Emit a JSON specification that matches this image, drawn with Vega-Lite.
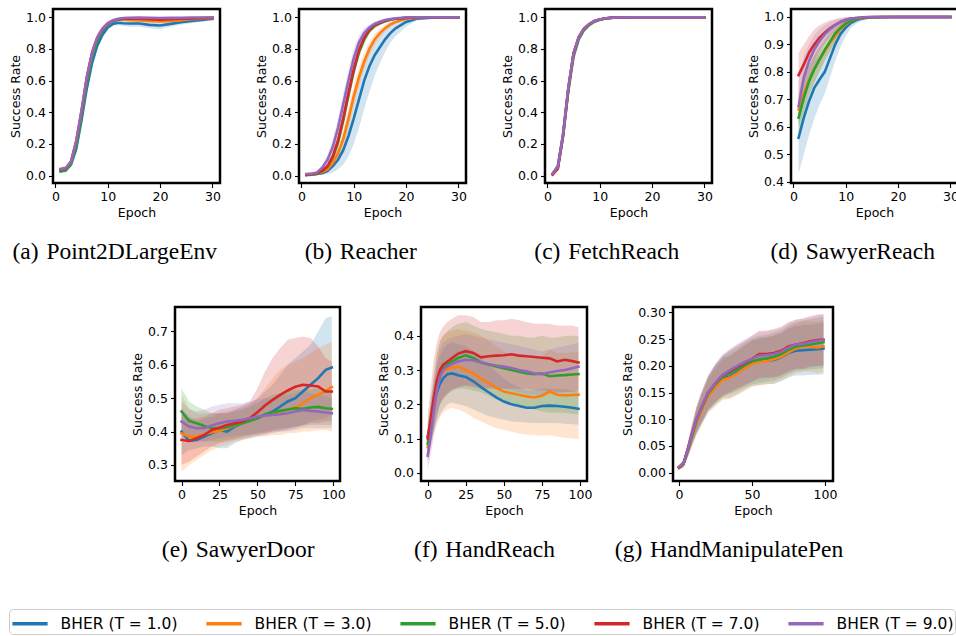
{
"$schema":"https://vega.github.io/schema/vega-lite/v6.json",
"background":"white",
"padding":{"left":7,"top":7,"right":0,"bottom":0},
"spacing":40,
"vconcat":[
{"hconcat":[
{"width":167,"height":174,"data":{"name":"a"},"title":{"text":"(a)\u200a Point2DLargeEnv"},
"encoding":{"x":{"field":"e","type":"quantitative","scale":{"domain":[-0.45,31.45],"nice":false,"zero":false},"axis":{"values":[0,10,20,30],"title":"Epoch"}},
"y":{"field":"m","type":"quantitative","title":"Success Rate","scale":{"domain":[-0.047,1.052],"nice":false,"zero":false},"axis":{"values":[0,0.2,0.4,0.6,0.8,1],"format":".1f"}},
"color":{"field":"s","type":"nominal","scale":{"domain":[1,3,5,7,9],"range":["#1f77b4","#ff7f0e","#2ca02c","#d62728","#9467bd"]},"legend":{"orient":"none","legendX":-44,"legendY":600,"direction":"horizontal","columns":5,"title":null,"labelExpr":"'BHER (T = ' + format(datum.value, '.1f') + ')'"}}},
"layer":[{"mark":{"type":"area","opacity":0.2},"encoding":{"y":{"field":"l","type":"quantitative","title":"Success Rate"},"y2":{"field":"h"}}},
{"mark":{"type":"line","strokeWidth":2.6,"strokeCap":"square"}}]},
{"width":167,"height":174,"data":{"name":"b"},"title":{"text":"(b)\u200a Reacher"},
"encoding":{"x":{"field":"e","type":"quantitative","scale":{"domain":[-0.45,31.45],"nice":false,"zero":false},"axis":{"values":[0,10,20,30],"title":"Epoch"}},
"y":{"field":"m","type":"quantitative","title":"Success Rate","scale":{"domain":[-0.047,1.052],"nice":false,"zero":false},"axis":{"values":[0,0.2,0.4,0.6,0.8,1],"format":".1f"}},
"color":{"field":"s","type":"nominal","scale":{"domain":[1,3,5,7,9],"range":["#1f77b4","#ff7f0e","#2ca02c","#d62728","#9467bd"]},"legend":{"orient":"none","legendX":-44,"legendY":600,"direction":"horizontal","columns":5,"title":null,"labelExpr":"'BHER (T = ' + format(datum.value, '.1f') + ')'"}}},
"layer":[{"mark":{"type":"area","opacity":0.2},"encoding":{"y":{"field":"l","type":"quantitative","title":"Success Rate"},"y2":{"field":"h"}}},
{"mark":{"type":"line","strokeWidth":2.6,"strokeCap":"square"}}]},
{"width":167,"height":174,"data":{"name":"c"},"title":{"text":"(c)\u200a FetchReach"},
"encoding":{"x":{"field":"e","type":"quantitative","scale":{"domain":[-0.45,31.45],"nice":false,"zero":false},"axis":{"values":[0,10,20,30],"title":"Epoch"}},
"y":{"field":"m","type":"quantitative","title":"Success Rate","scale":{"domain":[-0.047,1.052],"nice":false,"zero":false},"axis":{"values":[0,0.2,0.4,0.6,0.8,1],"format":".1f"}},
"color":{"field":"s","type":"nominal","scale":{"domain":[1,3,5,7,9],"range":["#1f77b4","#ff7f0e","#2ca02c","#d62728","#9467bd"]},"legend":{"orient":"none","legendX":-44,"legendY":600,"direction":"horizontal","columns":5,"title":null,"labelExpr":"'BHER (T = ' + format(datum.value, '.1f') + ')'"}}},
"layer":[{"mark":{"type":"area","opacity":0.2},"encoding":{"y":{"field":"l","type":"quantitative","title":"Success Rate"},"y2":{"field":"h"}}},
{"mark":{"type":"line","strokeWidth":2.6,"strokeCap":"square"}}]},
{"width":167,"height":174,"data":{"name":"d"},"title":{"text":"(d)\u200a SawyerReach"},
"encoding":{"x":{"field":"e","type":"quantitative","scale":{"domain":[-0.45,31.45],"nice":false,"zero":false},"axis":{"values":[0,10,20,30],"title":"Epoch"}},
"y":{"field":"m","type":"quantitative","title":"Success Rate","scale":{"domain":[0.395,1.029],"nice":false,"zero":false},"axis":{"values":[0.4,0.5,0.6,0.7,0.8,0.9,1],"format":".1f"}},
"color":{"field":"s","type":"nominal","scale":{"domain":[1,3,5,7,9],"range":["#1f77b4","#ff7f0e","#2ca02c","#d62728","#9467bd"]},"legend":{"orient":"none","legendX":-44,"legendY":600,"direction":"horizontal","columns":5,"title":null,"labelExpr":"'BHER (T = ' + format(datum.value, '.1f') + ')'"}}},
"layer":[{"mark":{"type":"area","opacity":0.2},"encoding":{"y":{"field":"l","type":"quantitative","title":"Success Rate"},"y2":{"field":"h"}}},
{"mark":{"type":"line","strokeWidth":2.6,"strokeCap":"square"}}]}
],"spacing":79,"bounds":"flush"},
{"hconcat":[
{"width":41,"height":174,"data":{"values":[]},"mark":"point","view":{"stroke":null}},
{"width":165,"height":174,"data":{"name":"e"},"title":{"text":"(e)\u200a SawyerDoor"},
"encoding":{"x":{"field":"e","type":"quantitative","scale":{"domain":[-4.3,104.4],"nice":false,"zero":false},"axis":{"values":[0,25,50,75,100],"title":"Epoch"}},
"y":{"field":"m","type":"quantitative","title":"Success Rate","scale":{"domain":[0.252,0.773],"nice":false,"zero":false},"axis":{"values":[0.3,0.4,0.5,0.6,0.7],"format":".1f"}},
"color":{"field":"s","type":"nominal","scale":{"domain":[1,3,5,7,9],"range":["#1f77b4","#ff7f0e","#2ca02c","#d62728","#9467bd"]},"legend":{"orient":"none","legendX":-44,"legendY":600,"direction":"horizontal","columns":5,"title":null,"labelExpr":"'BHER (T = ' + format(datum.value, '.1f') + ')'"}}},
"layer":[{"mark":{"type":"area","opacity":0.2},"encoding":{"y":{"field":"l","type":"quantitative","title":"Success Rate"},"y2":{"field":"h"}}},
{"mark":{"type":"line","strokeWidth":2.6,"strokeCap":"square"}}]},
{"hconcat":[
{"width":166,"height":174,"data":{"name":"f"},"title":{"text":"(f)\u200a HandReach"},
"encoding":{"x":{"field":"e","type":"quantitative","scale":{"domain":[-4.4,104.6],"nice":false,"zero":false},"axis":{"values":[0,25,50,75,100],"title":"Epoch"}},
"y":{"field":"m","type":"quantitative","title":"Success Rate","scale":{"domain":[-0.024,0.484],"nice":false,"zero":false},"axis":{"values":[0,0.1,0.2,0.3,0.4],"format":".1f"}},
"color":{"field":"s","type":"nominal","scale":{"domain":[1,3,5,7,9],"range":["#1f77b4","#ff7f0e","#2ca02c","#d62728","#9467bd"]},"legend":{"orient":"none","legendX":-44,"legendY":600,"direction":"horizontal","columns":5,"title":null,"labelExpr":"'BHER (T = ' + format(datum.value, '.1f') + ')'"}}},
"layer":[{"mark":{"type":"area","opacity":0.2},"encoding":{"y":{"field":"l","type":"quantitative","title":"Success Rate"},"y2":{"field":"h"}}},
{"mark":{"type":"line","strokeWidth":2.6,"strokeCap":"square"}}]},
{"width":160,"height":174,"data":{"name":"g"},"title":{"text":"(g)\u200a HandManipulatePen"},
"encoding":{"x":{"field":"e","type":"quantitative","scale":{"domain":[-4.1,105.5],"nice":false,"zero":false},"axis":{"values":[0,50,100],"title":"Epoch"}},
"y":{"field":"m","type":"quantitative","title":"Success Rate","scale":{"domain":[-0.0156,0.31],"nice":false,"zero":false},"axis":{"values":[0,0.05,0.1,0.15,0.2,0.25,0.3],"format":".2f"}},
"color":{"field":"s","type":"nominal","scale":{"domain":[1,3,5,7,9],"range":["#1f77b4","#ff7f0e","#2ca02c","#d62728","#9467bd"]},"legend":{"orient":"none","legendX":-44,"legendY":600,"direction":"horizontal","columns":5,"title":null,"labelExpr":"'BHER (T = ' + format(datum.value, '.1f') + ')'"}}},
"layer":[{"mark":{"type":"area","opacity":0.2},"encoding":{"y":{"field":"l","type":"quantitative","title":"Success Rate"},"y2":{"field":"h"}}},
{"mark":{"type":"line","strokeWidth":2.6,"strokeCap":"square"}}]}
],"spacing":86,"bounds":"flush"}
],"spacing":81,"bounds":"flush"}
],
"datasets":{
"a":[
{"e":1,"s":1,"m":0.027,"l":0.015,"h":0.039},{"e":2,"s":1,"m":0.033,"l":0.021,"h":0.045},{"e":3,"s":1,"m":0.07,"l":0.058,"h":0.082},{"e":4,"s":1,"m":0.17,"l":0.14,"h":0.2},{"e":5,"s":1,"m":0.35,"l":0.31,"h":0.39},{"e":6,"s":1,"m":0.55,"l":0.51,"h":0.59},{"e":7,"s":1,"m":0.71,"l":0.675,"h":0.745},{"e":8,"s":1,"m":0.82,"l":0.795,"h":0.845},{"e":9,"s":1,"m":0.89,"l":0.87,"h":0.91},{"e":10,"s":1,"m":0.935,"l":0.92,"h":0.95},{"e":11,"s":1,"m":0.958,"l":0.946,"h":0.97},{"e":12,"s":1,"m":0.965,"l":0.95,"h":0.98},{"e":13,"s":1,"m":0.962,"l":0.945,"h":0.98},{"e":14,"s":1,"m":0.96,"l":0.94,"h":0.98},{"e":16,"s":1,"m":0.96,"l":0.94,"h":0.98},{"e":18,"s":1,"m":0.952,"l":0.93,"h":0.975},{"e":20,"s":1,"m":0.948,"l":0.925,"h":0.97},{"e":22,"s":1,"m":0.958,"l":0.94,"h":0.975},{"e":24,"s":1,"m":0.968,"l":0.952,"h":0.984},{"e":26,"s":1,"m":0.976,"l":0.962,"h":0.99},{"e":28,"s":1,"m":0.983,"l":0.972,"h":0.994},{"e":30,"s":1,"m":0.99,"l":0.982,"h":0.998},
{"e":1,"s":3,"m":0.035,"l":0.023,"h":0.047},{"e":2,"s":3,"m":0.04,"l":0.028,"h":0.052},{"e":3,"s":3,"m":0.08,"l":0.068,"h":0.092},{"e":4,"s":3,"m":0.2,"l":0.17,"h":0.23},{"e":5,"s":3,"m":0.39,"l":0.35,"h":0.43},{"e":6,"s":3,"m":0.6,"l":0.56,"h":0.64},{"e":7,"s":3,"m":0.76,"l":0.725,"h":0.795},{"e":8,"s":3,"m":0.86,"l":0.835,"h":0.885},{"e":9,"s":3,"m":0.92,"l":0.9,"h":0.94},{"e":10,"s":3,"m":0.955,"l":0.94,"h":0.97},{"e":11,"s":3,"m":0.975,"l":0.963,"h":0.987},{"e":12,"s":3,"m":0.985,"l":0.977,"h":0.993},{"e":13,"s":3,"m":0.985,"l":0.977,"h":0.993},{"e":14,"s":3,"m":0.983,"l":0.975,"h":0.991},{"e":16,"s":3,"m":0.98,"l":0.97,"h":0.99},{"e":18,"s":3,"m":0.976,"l":0.966,"h":0.986},{"e":20,"s":3,"m":0.974,"l":0.964,"h":0.984},{"e":22,"s":3,"m":0.977,"l":0.967,"h":0.987},{"e":24,"s":3,"m":0.982,"l":0.974,"h":0.99},{"e":26,"s":3,"m":0.987,"l":0.98,"h":0.994},{"e":28,"s":3,"m":0.99,"l":0.984,"h":0.996},{"e":30,"s":3,"m":0.994,"l":0.989,"h":0.999},
{"e":1,"s":5,"m":0.028,"l":0.016,"h":0.04},{"e":2,"s":5,"m":0.035,"l":0.023,"h":0.047},{"e":3,"s":5,"m":0.075,"l":0.063,"h":0.087},{"e":4,"s":5,"m":0.19,"l":0.16,"h":0.22},{"e":5,"s":5,"m":0.38,"l":0.34,"h":0.42},{"e":6,"s":5,"m":0.59,"l":0.55,"h":0.63},{"e":7,"s":5,"m":0.75,"l":0.715,"h":0.785},{"e":8,"s":5,"m":0.85,"l":0.825,"h":0.875},{"e":9,"s":5,"m":0.915,"l":0.895,"h":0.935},{"e":10,"s":5,"m":0.955,"l":0.94,"h":0.97},{"e":11,"s":5,"m":0.975,"l":0.963,"h":0.987},{"e":12,"s":5,"m":0.985,"l":0.977,"h":0.993},{"e":13,"s":5,"m":0.99,"l":0.982,"h":0.998},{"e":14,"s":5,"m":0.99,"l":0.982,"h":0.998},{"e":16,"s":5,"m":0.99,"l":0.982,"h":0.998},{"e":18,"s":5,"m":0.99,"l":0.983,"h":0.997},{"e":20,"s":5,"m":0.99,"l":0.983,"h":0.997},{"e":22,"s":5,"m":0.99,"l":0.984,"h":0.996},{"e":24,"s":5,"m":0.992,"l":0.985,"h":0.999},{"e":26,"s":5,"m":0.994,"l":0.988,"h":1},{"e":28,"s":5,"m":0.995,"l":0.99,"h":1},{"e":30,"s":5,"m":0.996,"l":0.991,"h":1},
{"e":1,"s":7,"m":0.04,"l":0.028,"h":0.052},{"e":2,"s":7,"m":0.045,"l":0.033,"h":0.057},{"e":3,"s":7,"m":0.09,"l":0.078,"h":0.102},{"e":4,"s":7,"m":0.22,"l":0.19,"h":0.25},{"e":5,"s":7,"m":0.41,"l":0.37,"h":0.45},{"e":6,"s":7,"m":0.62,"l":0.58,"h":0.66},{"e":7,"s":7,"m":0.775,"l":0.74,"h":0.81},{"e":8,"s":7,"m":0.87,"l":0.845,"h":0.895},{"e":9,"s":7,"m":0.925,"l":0.905,"h":0.945},{"e":10,"s":7,"m":0.96,"l":0.945,"h":0.975},{"e":11,"s":7,"m":0.978,"l":0.966,"h":0.99},{"e":12,"s":7,"m":0.987,"l":0.979,"h":0.995},{"e":13,"s":7,"m":0.99,"l":0.982,"h":0.998},{"e":14,"s":7,"m":0.99,"l":0.982,"h":0.998},{"e":16,"s":7,"m":0.99,"l":0.982,"h":0.998},{"e":18,"s":7,"m":0.988,"l":0.98,"h":0.996},{"e":20,"s":7,"m":0.985,"l":0.977,"h":0.993},{"e":22,"s":7,"m":0.987,"l":0.979,"h":0.995},{"e":24,"s":7,"m":0.99,"l":0.982,"h":0.998},{"e":26,"s":7,"m":0.992,"l":0.985,"h":0.999},{"e":28,"s":7,"m":0.994,"l":0.988,"h":1},{"e":30,"s":7,"m":0.996,"l":0.991,"h":1},
{"e":1,"s":9,"m":0.042,"l":0.03,"h":0.054},{"e":2,"s":9,"m":0.048,"l":0.036,"h":0.06},{"e":3,"s":9,"m":0.09,"l":0.078,"h":0.102},{"e":4,"s":9,"m":0.22,"l":0.19,"h":0.25},{"e":5,"s":9,"m":0.41,"l":0.37,"h":0.45},{"e":6,"s":9,"m":0.62,"l":0.58,"h":0.66},{"e":7,"s":9,"m":0.77,"l":0.735,"h":0.805},{"e":8,"s":9,"m":0.87,"l":0.845,"h":0.895},{"e":9,"s":9,"m":0.925,"l":0.905,"h":0.945},{"e":10,"s":9,"m":0.96,"l":0.945,"h":0.975},{"e":11,"s":9,"m":0.98,"l":0.968,"h":0.992},{"e":12,"s":9,"m":0.99,"l":0.982,"h":0.998},{"e":13,"s":9,"m":0.995,"l":0.99,"h":1},{"e":14,"s":9,"m":0.997,"l":0.993,"h":1},{"e":16,"s":9,"m":0.998,"l":0.995,"h":1},{"e":18,"s":9,"m":0.997,"l":0.993,"h":1},{"e":20,"s":9,"m":0.995,"l":0.99,"h":1},{"e":22,"s":9,"m":0.996,"l":0.992,"h":1},{"e":24,"s":9,"m":0.997,"l":0.993,"h":1},{"e":26,"s":9,"m":0.998,"l":0.995,"h":1},{"e":28,"s":9,"m":0.998,"l":0.995,"h":1},{"e":30,"s":9,"m":0.998,"l":0.995,"h":1}
],
"b":[
{"e":1,"s":1,"m":0.005,"l":0,"h":0.01},{"e":2,"s":1,"m":0.007,"l":0.002,"h":0.012},{"e":3,"s":1,"m":0.01,"l":0.004,"h":0.016},{"e":4,"s":1,"m":0.015,"l":0.006,"h":0.025},{"e":5,"s":1,"m":0.03,"l":0.01,"h":0.05},{"e":6,"s":1,"m":0.06,"l":0.02,"h":0.1},{"e":7,"s":1,"m":0.1,"l":0.04,"h":0.17},{"e":8,"s":1,"m":0.16,"l":0.07,"h":0.26},{"e":9,"s":1,"m":0.25,"l":0.12,"h":0.37},{"e":10,"s":1,"m":0.36,"l":0.2,"h":0.5},{"e":11,"s":1,"m":0.48,"l":0.3,"h":0.63},{"e":12,"s":1,"m":0.6,"l":0.42,"h":0.73},{"e":13,"s":1,"m":0.69,"l":0.53,"h":0.8},{"e":14,"s":1,"m":0.76,"l":0.63,"h":0.85},{"e":15,"s":1,"m":0.81,"l":0.71,"h":0.89},{"e":16,"s":1,"m":0.86,"l":0.78,"h":0.92},{"e":17,"s":1,"m":0.9,"l":0.84,"h":0.95},{"e":18,"s":1,"m":0.93,"l":0.88,"h":0.97},{"e":20,"s":1,"m":0.97,"l":0.94,"h":0.99},{"e":22,"s":1,"m":0.99,"l":0.98,"h":1},{"e":25,"s":1,"m":0.997,"l":0.993,"h":1},{"e":30,"s":1,"m":1,"l":0.998,"h":1},
{"e":1,"s":3,"m":0.005,"l":0,"h":0.01},{"e":2,"s":3,"m":0.008,"l":0.003,"h":0.013},{"e":3,"s":3,"m":0.012,"l":0.007,"h":0.017},{"e":4,"s":3,"m":0.02,"l":0.012,"h":0.028},{"e":5,"s":3,"m":0.04,"l":0.025,"h":0.055},{"e":6,"s":3,"m":0.08,"l":0.05,"h":0.11},{"e":7,"s":3,"m":0.14,"l":0.095,"h":0.185},{"e":8,"s":3,"m":0.23,"l":0.17,"h":0.29},{"e":9,"s":3,"m":0.36,"l":0.29,"h":0.43},{"e":10,"s":3,"m":0.5,"l":0.43,"h":0.57},{"e":11,"s":3,"m":0.62,"l":0.555,"h":0.685},{"e":12,"s":3,"m":0.72,"l":0.665,"h":0.775},{"e":13,"s":3,"m":0.8,"l":0.755,"h":0.845},{"e":14,"s":3,"m":0.86,"l":0.825,"h":0.895},{"e":15,"s":3,"m":0.9,"l":0.872,"h":0.928},{"e":16,"s":3,"m":0.93,"l":0.908,"h":0.952},{"e":17,"s":3,"m":0.955,"l":0.939,"h":0.971},{"e":18,"s":3,"m":0.97,"l":0.958,"h":0.982},{"e":20,"s":3,"m":0.99,"l":0.984,"h":0.996},{"e":22,"s":3,"m":0.996,"l":0.993,"h":0.999},{"e":25,"s":3,"m":1,"l":0.998,"h":1},{"e":30,"s":3,"m":1,"l":0.999,"h":1},
{"e":1,"s":5,"m":0.003,"l":0,"h":0.008},{"e":2,"s":5,"m":0.005,"l":0.001,"h":0.009},{"e":3,"s":5,"m":0.012,"l":0.007,"h":0.017},{"e":4,"s":5,"m":0.028,"l":0.018,"h":0.038},{"e":5,"s":5,"m":0.058,"l":0.04,"h":0.076},{"e":6,"s":5,"m":0.115,"l":0.085,"h":0.145},{"e":7,"s":5,"m":0.21,"l":0.17,"h":0.25},{"e":8,"s":5,"m":0.35,"l":0.3,"h":0.4},{"e":9,"s":5,"m":0.51,"l":0.455,"h":0.565},{"e":10,"s":5,"m":0.66,"l":0.61,"h":0.71},{"e":11,"s":5,"m":0.78,"l":0.74,"h":0.82},{"e":12,"s":5,"m":0.86,"l":0.83,"h":0.89},{"e":13,"s":5,"m":0.915,"l":0.895,"h":0.935},{"e":14,"s":5,"m":0.945,"l":0.93,"h":0.96},{"e":15,"s":5,"m":0.962,"l":0.95,"h":0.974},{"e":16,"s":5,"m":0.975,"l":0.966,"h":0.984},{"e":17,"s":5,"m":0.984,"l":0.977,"h":0.991},{"e":18,"s":5,"m":0.99,"l":0.985,"h":0.995},{"e":20,"s":5,"m":0.996,"l":0.993,"h":0.999},{"e":22,"s":5,"m":1,"l":0.998,"h":1},{"e":25,"s":5,"m":1,"l":0.999,"h":1},{"e":30,"s":5,"m":1,"l":0.999,"h":1},
{"e":1,"s":7,"m":0.005,"l":0.001,"h":0.009},{"e":2,"s":7,"m":0.008,"l":0.004,"h":0.012},{"e":3,"s":7,"m":0.015,"l":0.009,"h":0.021},{"e":4,"s":7,"m":0.03,"l":0.02,"h":0.04},{"e":5,"s":7,"m":0.06,"l":0.042,"h":0.078},{"e":6,"s":7,"m":0.12,"l":0.09,"h":0.15},{"e":7,"s":7,"m":0.22,"l":0.18,"h":0.26},{"e":8,"s":7,"m":0.36,"l":0.31,"h":0.41},{"e":9,"s":7,"m":0.52,"l":0.465,"h":0.575},{"e":10,"s":7,"m":0.67,"l":0.62,"h":0.72},{"e":11,"s":7,"m":0.79,"l":0.75,"h":0.83},{"e":12,"s":7,"m":0.87,"l":0.84,"h":0.9},{"e":13,"s":7,"m":0.92,"l":0.9,"h":0.94},{"e":14,"s":7,"m":0.95,"l":0.935,"h":0.965},{"e":15,"s":7,"m":0.965,"l":0.953,"h":0.977},{"e":16,"s":7,"m":0.977,"l":0.968,"h":0.986},{"e":17,"s":7,"m":0.986,"l":0.979,"h":0.993},{"e":18,"s":7,"m":0.99,"l":0.985,"h":0.995},{"e":20,"s":7,"m":0.996,"l":0.993,"h":0.999},{"e":22,"s":7,"m":1,"l":0.998,"h":1},{"e":25,"s":7,"m":1,"l":0.999,"h":1},{"e":30,"s":7,"m":1,"l":0.999,"h":1},
{"e":1,"s":9,"m":0.01,"l":0.004,"h":0.016},{"e":2,"s":9,"m":0.012,"l":0.006,"h":0.018},{"e":3,"s":9,"m":0.02,"l":0.012,"h":0.03},{"e":4,"s":9,"m":0.05,"l":0.03,"h":0.07},{"e":5,"s":9,"m":0.1,"l":0.07,"h":0.13},{"e":6,"s":9,"m":0.18,"l":0.13,"h":0.23},{"e":7,"s":9,"m":0.3,"l":0.24,"h":0.36},{"e":8,"s":9,"m":0.45,"l":0.38,"h":0.52},{"e":9,"s":9,"m":0.6,"l":0.53,"h":0.67},{"e":10,"s":9,"m":0.74,"l":0.68,"h":0.8},{"e":11,"s":9,"m":0.84,"l":0.795,"h":0.885},{"e":12,"s":9,"m":0.9,"l":0.87,"h":0.93},{"e":13,"s":9,"m":0.935,"l":0.915,"h":0.955},{"e":14,"s":9,"m":0.958,"l":0.944,"h":0.972},{"e":15,"s":9,"m":0.972,"l":0.962,"h":0.982},{"e":16,"s":9,"m":0.982,"l":0.975,"h":0.989},{"e":17,"s":9,"m":0.988,"l":0.983,"h":0.993},{"e":18,"s":9,"m":0.993,"l":0.989,"h":0.997},{"e":20,"s":9,"m":0.998,"l":0.996,"h":1},{"e":22,"s":9,"m":1,"l":0.999,"h":1},{"e":25,"s":9,"m":1,"l":0.999,"h":1},{"e":30,"s":9,"m":1,"l":0.999,"h":1}
],
"c":[
{"e":1,"s":1,"m":0.012,"l":0.004,"h":0.02},{"e":2,"s":1,"m":0.06,"l":0.05,"h":0.07},{"e":3,"s":1,"m":0.26,"l":0.25,"h":0.27},{"e":4,"s":1,"m":0.55,"l":0.54,"h":0.56},{"e":5,"s":1,"m":0.77,"l":0.76,"h":0.78},{"e":6,"s":1,"m":0.875,"l":0.865,"h":0.885},{"e":7,"s":1,"m":0.928,"l":0.92,"h":0.936},{"e":8,"s":1,"m":0.957,"l":0.95,"h":0.964},{"e":9,"s":1,"m":0.976,"l":0.97,"h":0.982},{"e":10,"s":1,"m":0.986,"l":0.981,"h":0.991},{"e":11,"s":1,"m":0.992,"l":0.988,"h":0.996},{"e":12,"s":1,"m":0.996,"l":0.993,"h":0.999},{"e":13,"s":1,"m":0.998,"l":0.996,"h":1},{"e":14,"s":1,"m":0.999,"l":0.997,"h":1},{"e":16,"s":1,"m":1,"l":0.999,"h":1},{"e":20,"s":1,"m":1,"l":0.999,"h":1},{"e":25,"s":1,"m":1,"l":0.999,"h":1},{"e":30,"s":1,"m":1,"l":0.999,"h":1},
{"e":1,"s":3,"m":0.008,"l":0.002,"h":0.014},{"e":2,"s":3,"m":0.048,"l":0.04,"h":0.056},{"e":3,"s":3,"m":0.255,"l":0.245,"h":0.265},{"e":4,"s":3,"m":0.548,"l":0.538,"h":0.558},{"e":5,"s":3,"m":0.77,"l":0.76,"h":0.78},{"e":6,"s":3,"m":0.875,"l":0.865,"h":0.885},{"e":7,"s":3,"m":0.928,"l":0.92,"h":0.936},{"e":8,"s":3,"m":0.957,"l":0.95,"h":0.964},{"e":9,"s":3,"m":0.976,"l":0.97,"h":0.982},{"e":10,"s":3,"m":0.986,"l":0.981,"h":0.991},{"e":11,"s":3,"m":0.992,"l":0.988,"h":0.996},{"e":12,"s":3,"m":0.996,"l":0.993,"h":0.999},{"e":13,"s":3,"m":0.998,"l":0.996,"h":1},{"e":14,"s":3,"m":0.999,"l":0.997,"h":1},{"e":16,"s":3,"m":1,"l":0.999,"h":1},{"e":20,"s":3,"m":1,"l":0.999,"h":1},{"e":25,"s":3,"m":1,"l":0.999,"h":1},{"e":30,"s":3,"m":1,"l":0.999,"h":1},
{"e":1,"s":5,"m":0.01,"l":0.003,"h":0.017},{"e":2,"s":5,"m":0.05,"l":0.042,"h":0.058},{"e":3,"s":5,"m":0.25,"l":0.24,"h":0.26},{"e":4,"s":5,"m":0.53,"l":0.52,"h":0.54},{"e":5,"s":5,"m":0.75,"l":0.74,"h":0.76},{"e":6,"s":5,"m":0.86,"l":0.85,"h":0.87},{"e":7,"s":5,"m":0.918,"l":0.91,"h":0.926},{"e":8,"s":5,"m":0.95,"l":0.943,"h":0.957},{"e":9,"s":5,"m":0.972,"l":0.966,"h":0.978},{"e":10,"s":5,"m":0.984,"l":0.979,"h":0.989},{"e":11,"s":5,"m":0.991,"l":0.987,"h":0.995},{"e":12,"s":5,"m":0.995,"l":0.992,"h":0.998},{"e":13,"s":5,"m":0.998,"l":0.996,"h":1},{"e":14,"s":5,"m":0.999,"l":0.997,"h":1},{"e":16,"s":5,"m":1,"l":0.999,"h":1},{"e":20,"s":5,"m":1,"l":0.999,"h":1},{"e":25,"s":5,"m":1,"l":0.999,"h":1},{"e":30,"s":5,"m":1,"l":0.999,"h":1},
{"e":1,"s":7,"m":0.005,"l":0,"h":0.01},{"e":2,"s":7,"m":0.042,"l":0.034,"h":0.05},{"e":3,"s":7,"m":0.25,"l":0.24,"h":0.26},{"e":4,"s":7,"m":0.545,"l":0.535,"h":0.555},{"e":5,"s":7,"m":0.77,"l":0.76,"h":0.78},{"e":6,"s":7,"m":0.873,"l":0.863,"h":0.883},{"e":7,"s":7,"m":0.927,"l":0.919,"h":0.935},{"e":8,"s":7,"m":0.956,"l":0.949,"h":0.963},{"e":9,"s":7,"m":0.975,"l":0.969,"h":0.981},{"e":10,"s":7,"m":0.986,"l":0.981,"h":0.991},{"e":11,"s":7,"m":0.992,"l":0.988,"h":0.996},{"e":12,"s":7,"m":0.996,"l":0.993,"h":0.999},{"e":13,"s":7,"m":0.998,"l":0.996,"h":1},{"e":14,"s":7,"m":0.999,"l":0.997,"h":1},{"e":16,"s":7,"m":1,"l":0.999,"h":1},{"e":20,"s":7,"m":1,"l":0.999,"h":1},{"e":25,"s":7,"m":1,"l":0.999,"h":1},{"e":30,"s":7,"m":1,"l":0.999,"h":1},
{"e":1,"s":9,"m":0.012,"l":0.004,"h":0.02},{"e":2,"s":9,"m":0.055,"l":0.046,"h":0.064},{"e":3,"s":9,"m":0.26,"l":0.25,"h":0.27},{"e":4,"s":9,"m":0.55,"l":0.54,"h":0.56},{"e":5,"s":9,"m":0.77,"l":0.76,"h":0.78},{"e":6,"s":9,"m":0.875,"l":0.865,"h":0.885},{"e":7,"s":9,"m":0.928,"l":0.92,"h":0.936},{"e":8,"s":9,"m":0.957,"l":0.95,"h":0.964},{"e":9,"s":9,"m":0.976,"l":0.97,"h":0.982},{"e":10,"s":9,"m":0.986,"l":0.981,"h":0.991},{"e":11,"s":9,"m":0.992,"l":0.988,"h":0.996},{"e":12,"s":9,"m":0.996,"l":0.993,"h":0.999},{"e":13,"s":9,"m":0.998,"l":0.996,"h":1},{"e":14,"s":9,"m":0.999,"l":0.997,"h":1},{"e":16,"s":9,"m":1,"l":0.999,"h":1},{"e":20,"s":9,"m":1,"l":0.999,"h":1},{"e":25,"s":9,"m":1,"l":0.999,"h":1},{"e":30,"s":9,"m":1,"l":0.999,"h":1}
],
"d":[
{"e":1,"s":1,"m":0.56,"l":0.43,"h":0.68},{"e":2,"s":1,"m":0.633,"l":0.5,"h":0.75},{"e":3,"s":1,"m":0.693,"l":0.57,"h":0.8},{"e":4,"s":1,"m":0.742,"l":0.63,"h":0.84},{"e":5,"s":1,"m":0.772,"l":0.68,"h":0.86},{"e":6,"s":1,"m":0.8,"l":0.72,"h":0.89},{"e":7,"s":1,"m":0.85,"l":0.78,"h":0.92},{"e":8,"s":1,"m":0.9,"l":0.84,"h":0.95},{"e":9,"s":1,"m":0.937,"l":0.89,"h":0.97},{"e":10,"s":1,"m":0.961,"l":0.93,"h":0.985},{"e":11,"s":1,"m":0.979,"l":0.96,"h":0.995},{"e":12,"s":1,"m":0.988,"l":0.975,"h":1},{"e":13,"s":1,"m":0.994,"l":0.985,"h":1},{"e":14,"s":1,"m":0.997,"l":0.99,"h":1},{"e":15,"s":1,"m":0.998,"l":0.995,"h":1},{"e":17,"s":1,"m":0.999,"l":0.997,"h":1},{"e":20,"s":1,"m":1,"l":0.999,"h":1},{"e":25,"s":1,"m":1,"l":0.999,"h":1},{"e":30,"s":1,"m":1,"l":0.999,"h":1},
{"e":1,"s":3,"m":0.663,"l":0.6,"h":0.73},{"e":2,"s":3,"m":0.72,"l":0.66,"h":0.78},{"e":3,"s":3,"m":0.77,"l":0.72,"h":0.82},{"e":4,"s":3,"m":0.81,"l":0.76,"h":0.86},{"e":5,"s":3,"m":0.845,"l":0.8,"h":0.89},{"e":6,"s":3,"m":0.876,"l":0.84,"h":0.91},{"e":7,"s":3,"m":0.906,"l":0.875,"h":0.935},{"e":8,"s":3,"m":0.93,"l":0.905,"h":0.955},{"e":9,"s":3,"m":0.955,"l":0.935,"h":0.975},{"e":10,"s":3,"m":0.973,"l":0.958,"h":0.988},{"e":11,"s":3,"m":0.985,"l":0.975,"h":0.995},{"e":12,"s":3,"m":0.992,"l":0.985,"h":0.999},{"e":13,"s":3,"m":0.996,"l":0.992,"h":1},{"e":14,"s":3,"m":0.998,"l":0.996,"h":1},{"e":15,"s":3,"m":0.999,"l":0.998,"h":1},{"e":17,"s":3,"m":1,"l":0.999,"h":1},{"e":20,"s":3,"m":1,"l":0.999,"h":1},{"e":25,"s":3,"m":1,"l":0.999,"h":1},{"e":30,"s":3,"m":1,"l":0.999,"h":1},
{"e":1,"s":5,"m":0.633,"l":0.57,"h":0.7},{"e":2,"s":5,"m":0.705,"l":0.64,"h":0.77},{"e":3,"s":5,"m":0.766,"l":0.71,"h":0.82},{"e":4,"s":5,"m":0.81,"l":0.76,"h":0.86},{"e":5,"s":5,"m":0.845,"l":0.8,"h":0.89},{"e":6,"s":5,"m":0.88,"l":0.84,"h":0.92},{"e":7,"s":5,"m":0.91,"l":0.875,"h":0.945},{"e":8,"s":5,"m":0.94,"l":0.91,"h":0.97},{"e":9,"s":5,"m":0.96,"l":0.935,"h":0.985},{"e":10,"s":5,"m":0.976,"l":0.955,"h":0.995},{"e":11,"s":5,"m":0.985,"l":0.97,"h":1},{"e":12,"s":5,"m":0.992,"l":0.984,"h":1},{"e":13,"s":5,"m":0.996,"l":0.992,"h":1},{"e":14,"s":5,"m":0.998,"l":0.996,"h":1},{"e":15,"s":5,"m":0.999,"l":0.998,"h":1},{"e":17,"s":5,"m":1,"l":0.999,"h":1},{"e":20,"s":5,"m":1,"l":0.999,"h":1},{"e":25,"s":5,"m":1,"l":0.999,"h":1},{"e":30,"s":5,"m":1,"l":0.999,"h":1},
{"e":1,"s":7,"m":0.788,"l":0.7,"h":0.87},{"e":2,"s":7,"m":0.827,"l":0.75,"h":0.9},{"e":3,"s":7,"m":0.87,"l":0.8,"h":0.93},{"e":4,"s":7,"m":0.9,"l":0.84,"h":0.955},{"e":5,"s":7,"m":0.925,"l":0.88,"h":0.97},{"e":6,"s":7,"m":0.943,"l":0.905,"h":0.98},{"e":7,"s":7,"m":0.959,"l":0.93,"h":0.988},{"e":8,"s":7,"m":0.971,"l":0.95,"h":0.992},{"e":9,"s":7,"m":0.982,"l":0.968,"h":0.996},{"e":10,"s":7,"m":0.989,"l":0.979,"h":0.999},{"e":11,"s":7,"m":0.994,"l":0.988,"h":1},{"e":12,"s":7,"m":0.996,"l":0.992,"h":1},{"e":13,"s":7,"m":0.998,"l":0.996,"h":1},{"e":14,"s":7,"m":0.999,"l":0.998,"h":1},{"e":15,"s":7,"m":1,"l":0.999,"h":1},{"e":17,"s":7,"m":1,"l":0.999,"h":1},{"e":20,"s":7,"m":1,"l":0.999,"h":1},{"e":25,"s":7,"m":1,"l":0.999,"h":1},{"e":30,"s":7,"m":1,"l":0.999,"h":1},
{"e":1,"s":9,"m":0.675,"l":0.6,"h":0.76},{"e":2,"s":9,"m":0.78,"l":0.7,"h":0.86},{"e":3,"s":9,"m":0.84,"l":0.77,"h":0.9},{"e":4,"s":9,"m":0.882,"l":0.82,"h":0.935},{"e":5,"s":9,"m":0.912,"l":0.86,"h":0.955},{"e":6,"s":9,"m":0.937,"l":0.9,"h":0.97},{"e":7,"s":9,"m":0.955,"l":0.925,"h":0.982},{"e":8,"s":9,"m":0.97,"l":0.948,"h":0.99},{"e":9,"s":9,"m":0.982,"l":0.966,"h":0.996},{"e":10,"s":9,"m":0.99,"l":0.98,"h":0.999},{"e":11,"s":9,"m":0.994,"l":0.988,"h":1},{"e":12,"s":9,"m":0.996,"l":0.992,"h":1},{"e":13,"s":9,"m":0.998,"l":0.996,"h":1},{"e":14,"s":9,"m":1,"l":0.998,"h":1},{"e":15,"s":9,"m":1,"l":0.999,"h":1},{"e":17,"s":9,"m":1,"l":0.999,"h":1},{"e":20,"s":9,"m":1,"l":0.999,"h":1},{"e":25,"s":9,"m":1,"l":0.999,"h":1},{"e":30,"s":9,"m":1,"l":0.999,"h":1}
],
"e":[
{"e":0,"s":1,"m":0.4,"l":0.33,"h":0.47},{"e":5,"s":1,"m":0.372,"l":0.345,"h":0.445},{"e":10,"s":1,"m":0.375,"l":0.35,"h":0.43},{"e":15,"s":1,"m":0.385,"l":0.355,"h":0.44},{"e":20,"s":1,"m":0.395,"l":0.355,"h":0.445},{"e":25,"s":1,"m":0.405,"l":0.35,"h":0.455},{"e":30,"s":1,"m":0.4,"l":0.35,"h":0.455},{"e":35,"s":1,"m":0.415,"l":0.365,"h":0.465},{"e":40,"s":1,"m":0.425,"l":0.375,"h":0.475},{"e":45,"s":1,"m":0.432,"l":0.38,"h":0.485},{"e":50,"s":1,"m":0.44,"l":0.385,"h":0.5},{"e":55,"s":1,"m":0.45,"l":0.39,"h":0.52},{"e":60,"s":1,"m":0.46,"l":0.395,"h":0.54},{"e":65,"s":1,"m":0.475,"l":0.4,"h":0.57},{"e":70,"s":1,"m":0.49,"l":0.405,"h":0.6},{"e":75,"s":1,"m":0.5,"l":0.41,"h":0.62},{"e":80,"s":1,"m":0.52,"l":0.42,"h":0.64},{"e":85,"s":1,"m":0.54,"l":0.43,"h":0.66},{"e":90,"s":1,"m":0.56,"l":0.435,"h":0.7},{"e":95,"s":1,"m":0.585,"l":0.44,"h":0.74},{"e":99,"s":1,"m":0.592,"l":0.45,"h":0.745},
{"e":0,"s":3,"m":0.395,"l":0.28,"h":0.51},{"e":5,"s":3,"m":0.385,"l":0.3,"h":0.47},{"e":10,"s":3,"m":0.385,"l":0.315,"h":0.455},{"e":15,"s":3,"m":0.392,"l":0.33,"h":0.455},{"e":20,"s":3,"m":0.398,"l":0.345,"h":0.455},{"e":25,"s":3,"m":0.402,"l":0.355,"h":0.455},{"e":30,"s":3,"m":0.41,"l":0.36,"h":0.46},{"e":35,"s":3,"m":0.418,"l":0.37,"h":0.465},{"e":40,"s":3,"m":0.425,"l":0.375,"h":0.47},{"e":45,"s":3,"m":0.432,"l":0.38,"h":0.48},{"e":50,"s":3,"m":0.44,"l":0.385,"h":0.5},{"e":55,"s":3,"m":0.45,"l":0.385,"h":0.53},{"e":60,"s":3,"m":0.455,"l":0.39,"h":0.56},{"e":65,"s":3,"m":0.46,"l":0.39,"h":0.585},{"e":70,"s":3,"m":0.465,"l":0.395,"h":0.6},{"e":75,"s":3,"m":0.472,"l":0.395,"h":0.61},{"e":80,"s":3,"m":0.485,"l":0.4,"h":0.62},{"e":85,"s":3,"m":0.5,"l":0.4,"h":0.635},{"e":90,"s":3,"m":0.51,"l":0.405,"h":0.65},{"e":95,"s":3,"m":0.522,"l":0.405,"h":0.66},{"e":99,"s":3,"m":0.533,"l":0.4,"h":0.67},
{"e":0,"s":5,"m":0.46,"l":0.39,"h":0.53},{"e":5,"s":5,"m":0.432,"l":0.38,"h":0.49},{"e":10,"s":5,"m":0.425,"l":0.375,"h":0.475},{"e":15,"s":5,"m":0.417,"l":0.37,"h":0.465},{"e":20,"s":5,"m":0.41,"l":0.37,"h":0.455},{"e":25,"s":5,"m":0.41,"l":0.37,"h":0.455},{"e":30,"s":5,"m":0.413,"l":0.375,"h":0.455},{"e":35,"s":5,"m":0.42,"l":0.38,"h":0.46},{"e":40,"s":5,"m":0.425,"l":0.385,"h":0.465},{"e":45,"s":5,"m":0.432,"l":0.39,"h":0.475},{"e":50,"s":5,"m":0.44,"l":0.395,"h":0.485},{"e":55,"s":5,"m":0.452,"l":0.4,"h":0.5},{"e":60,"s":5,"m":0.458,"l":0.405,"h":0.51},{"e":65,"s":5,"m":0.462,"l":0.41,"h":0.515},{"e":70,"s":5,"m":0.466,"l":0.41,"h":0.52},{"e":75,"s":5,"m":0.47,"l":0.415,"h":0.525},{"e":80,"s":5,"m":0.468,"l":0.415,"h":0.525},{"e":85,"s":5,"m":0.472,"l":0.42,"h":0.525},{"e":90,"s":5,"m":0.474,"l":0.42,"h":0.53},{"e":95,"s":5,"m":0.47,"l":0.42,"h":0.525},{"e":99,"s":5,"m":0.468,"l":0.42,"h":0.52},
{"e":0,"s":7,"m":0.375,"l":0.3,"h":0.45},{"e":5,"s":7,"m":0.372,"l":0.31,"h":0.44},{"e":10,"s":7,"m":0.38,"l":0.325,"h":0.44},{"e":15,"s":7,"m":0.39,"l":0.34,"h":0.445},{"e":20,"s":7,"m":0.405,"l":0.355,"h":0.455},{"e":25,"s":7,"m":0.412,"l":0.365,"h":0.465},{"e":30,"s":7,"m":0.42,"l":0.37,"h":0.47},{"e":35,"s":7,"m":0.425,"l":0.375,"h":0.475},{"e":40,"s":7,"m":0.43,"l":0.38,"h":0.48},{"e":45,"s":7,"m":0.44,"l":0.385,"h":0.49},{"e":50,"s":7,"m":0.458,"l":0.39,"h":0.53},{"e":55,"s":7,"m":0.478,"l":0.395,"h":0.58},{"e":60,"s":7,"m":0.495,"l":0.4,"h":0.62},{"e":65,"s":7,"m":0.51,"l":0.405,"h":0.65},{"e":70,"s":7,"m":0.523,"l":0.41,"h":0.675},{"e":75,"s":7,"m":0.534,"l":0.415,"h":0.68},{"e":80,"s":7,"m":0.54,"l":0.42,"h":0.685},{"e":85,"s":7,"m":0.538,"l":0.425,"h":0.68},{"e":90,"s":7,"m":0.535,"l":0.425,"h":0.655},{"e":95,"s":7,"m":0.52,"l":0.43,"h":0.62},{"e":99,"s":7,"m":0.52,"l":0.43,"h":0.61},
{"e":0,"s":9,"m":0.43,"l":0.375,"h":0.49},{"e":5,"s":9,"m":0.415,"l":0.37,"h":0.465},{"e":10,"s":9,"m":0.41,"l":0.37,"h":0.46},{"e":15,"s":9,"m":0.41,"l":0.37,"h":0.465},{"e":20,"s":9,"m":0.418,"l":0.375,"h":0.475},{"e":25,"s":9,"m":0.425,"l":0.38,"h":0.48},{"e":30,"s":9,"m":0.43,"l":0.385,"h":0.485},{"e":35,"s":9,"m":0.432,"l":0.385,"h":0.485},{"e":40,"s":9,"m":0.435,"l":0.39,"h":0.485},{"e":45,"s":9,"m":0.44,"l":0.39,"h":0.49},{"e":50,"s":9,"m":0.445,"l":0.395,"h":0.495},{"e":55,"s":9,"m":0.448,"l":0.395,"h":0.5},{"e":60,"s":9,"m":0.45,"l":0.4,"h":0.5},{"e":65,"s":9,"m":0.452,"l":0.4,"h":0.505},{"e":70,"s":9,"m":0.455,"l":0.4,"h":0.51},{"e":75,"s":9,"m":0.46,"l":0.405,"h":0.515},{"e":80,"s":9,"m":0.465,"l":0.41,"h":0.52},{"e":85,"s":9,"m":0.462,"l":0.41,"h":0.515},{"e":90,"s":9,"m":0.46,"l":0.41,"h":0.51},{"e":95,"s":9,"m":0.457,"l":0.41,"h":0.505},{"e":99,"s":9,"m":0.455,"l":0.41,"h":0.5}
],
"f":[
{"e":0,"s":1,"m":0.105,"l":0.06,"h":0.15},{"e":2,"s":1,"m":0.15,"l":0.09,"h":0.21},{"e":4,"s":1,"m":0.2,"l":0.12,"h":0.27},{"e":6,"s":1,"m":0.235,"l":0.15,"h":0.31},{"e":8,"s":1,"m":0.26,"l":0.17,"h":0.34},{"e":10,"s":1,"m":0.275,"l":0.185,"h":0.36},{"e":13,"s":1,"m":0.288,"l":0.2,"h":0.375},{"e":16,"s":1,"m":0.29,"l":0.205,"h":0.38},{"e":20,"s":1,"m":0.285,"l":0.2,"h":0.375},{"e":25,"s":1,"m":0.28,"l":0.195,"h":0.37},{"e":30,"s":1,"m":0.267,"l":0.185,"h":0.355},{"e":35,"s":1,"m":0.25,"l":0.175,"h":0.335},{"e":40,"s":1,"m":0.235,"l":0.165,"h":0.315},{"e":45,"s":1,"m":0.22,"l":0.16,"h":0.295},{"e":50,"s":1,"m":0.208,"l":0.155,"h":0.275},{"e":55,"s":1,"m":0.2,"l":0.15,"h":0.26},{"e":60,"s":1,"m":0.195,"l":0.148,"h":0.25},{"e":65,"s":1,"m":0.19,"l":0.147,"h":0.24},{"e":70,"s":1,"m":0.19,"l":0.145,"h":0.24},{"e":75,"s":1,"m":0.195,"l":0.145,"h":0.245},{"e":80,"s":1,"m":0.196,"l":0.145,"h":0.245},{"e":85,"s":1,"m":0.195,"l":0.145,"h":0.245},{"e":90,"s":1,"m":0.193,"l":0.143,"h":0.243},{"e":95,"s":1,"m":0.19,"l":0.142,"h":0.24},{"e":99,"s":1,"m":0.187,"l":0.14,"h":0.235},
{"e":0,"s":3,"m":0.075,"l":0.03,"h":0.12},{"e":2,"s":3,"m":0.13,"l":0.07,"h":0.19},{"e":4,"s":3,"m":0.19,"l":0.11,"h":0.27},{"e":6,"s":3,"m":0.245,"l":0.14,"h":0.34},{"e":8,"s":3,"m":0.28,"l":0.16,"h":0.38},{"e":10,"s":3,"m":0.295,"l":0.175,"h":0.4},{"e":13,"s":3,"m":0.302,"l":0.185,"h":0.41},{"e":16,"s":3,"m":0.307,"l":0.19,"h":0.415},{"e":20,"s":3,"m":0.31,"l":0.185,"h":0.42},{"e":25,"s":3,"m":0.3,"l":0.175,"h":0.415},{"e":30,"s":3,"m":0.29,"l":0.16,"h":0.41},{"e":35,"s":3,"m":0.275,"l":0.15,"h":0.4},{"e":40,"s":3,"m":0.262,"l":0.14,"h":0.385},{"e":45,"s":3,"m":0.248,"l":0.13,"h":0.37},{"e":50,"s":3,"m":0.237,"l":0.125,"h":0.355},{"e":55,"s":3,"m":0.232,"l":0.12,"h":0.345},{"e":60,"s":3,"m":0.228,"l":0.115,"h":0.34},{"e":65,"s":3,"m":0.223,"l":0.112,"h":0.335},{"e":70,"s":3,"m":0.22,"l":0.11,"h":0.33},{"e":75,"s":3,"m":0.225,"l":0.108,"h":0.34},{"e":80,"s":3,"m":0.238,"l":0.11,"h":0.36},{"e":85,"s":3,"m":0.228,"l":0.105,"h":0.35},{"e":90,"s":3,"m":0.226,"l":0.102,"h":0.35},{"e":95,"s":3,"m":0.227,"l":0.1,"h":0.352},{"e":99,"s":3,"m":0.228,"l":0.098,"h":0.355},
{"e":0,"s":5,"m":0.085,"l":0.04,"h":0.13},{"e":2,"s":5,"m":0.145,"l":0.08,"h":0.21},{"e":4,"s":5,"m":0.21,"l":0.13,"h":0.29},{"e":6,"s":5,"m":0.26,"l":0.17,"h":0.35},{"e":8,"s":5,"m":0.29,"l":0.2,"h":0.385},{"e":10,"s":5,"m":0.305,"l":0.215,"h":0.4},{"e":13,"s":5,"m":0.315,"l":0.23,"h":0.415},{"e":16,"s":5,"m":0.325,"l":0.24,"h":0.425},{"e":20,"s":5,"m":0.335,"l":0.245,"h":0.435},{"e":25,"s":5,"m":0.343,"l":0.245,"h":0.44},{"e":30,"s":5,"m":0.335,"l":0.24,"h":0.43},{"e":35,"s":5,"m":0.322,"l":0.235,"h":0.42},{"e":40,"s":5,"m":0.316,"l":0.225,"h":0.415},{"e":45,"s":5,"m":0.31,"l":0.215,"h":0.41},{"e":50,"s":5,"m":0.305,"l":0.21,"h":0.405},{"e":55,"s":5,"m":0.3,"l":0.2,"h":0.4},{"e":60,"s":5,"m":0.295,"l":0.195,"h":0.4},{"e":65,"s":5,"m":0.29,"l":0.19,"h":0.395},{"e":70,"s":5,"m":0.288,"l":0.185,"h":0.395},{"e":75,"s":5,"m":0.29,"l":0.18,"h":0.4},{"e":80,"s":5,"m":0.282,"l":0.175,"h":0.395},{"e":85,"s":5,"m":0.284,"l":0.175,"h":0.395},{"e":90,"s":5,"m":0.285,"l":0.175,"h":0.4},{"e":95,"s":5,"m":0.287,"l":0.172,"h":0.4},{"e":99,"s":5,"m":0.288,"l":0.17,"h":0.4},
{"e":0,"s":7,"m":0.1,"l":0.03,"h":0.17},{"e":2,"s":7,"m":0.16,"l":0.08,"h":0.25},{"e":4,"s":7,"m":0.22,"l":0.13,"h":0.33},{"e":6,"s":7,"m":0.27,"l":0.17,"h":0.38},{"e":8,"s":7,"m":0.3,"l":0.2,"h":0.41},{"e":10,"s":7,"m":0.315,"l":0.215,"h":0.425},{"e":13,"s":7,"m":0.325,"l":0.23,"h":0.44},{"e":16,"s":7,"m":0.335,"l":0.24,"h":0.45},{"e":20,"s":7,"m":0.348,"l":0.25,"h":0.46},{"e":25,"s":7,"m":0.355,"l":0.255,"h":0.46},{"e":30,"s":7,"m":0.35,"l":0.25,"h":0.455},{"e":35,"s":7,"m":0.337,"l":0.245,"h":0.44},{"e":40,"s":7,"m":0.34,"l":0.245,"h":0.44},{"e":45,"s":7,"m":0.342,"l":0.245,"h":0.445},{"e":50,"s":7,"m":0.343,"l":0.245,"h":0.445},{"e":55,"s":7,"m":0.346,"l":0.245,"h":0.45},{"e":60,"s":7,"m":0.342,"l":0.245,"h":0.445},{"e":65,"s":7,"m":0.34,"l":0.245,"h":0.44},{"e":70,"s":7,"m":0.338,"l":0.24,"h":0.435},{"e":75,"s":7,"m":0.336,"l":0.24,"h":0.435},{"e":80,"s":7,"m":0.334,"l":0.24,"h":0.435},{"e":85,"s":7,"m":0.325,"l":0.235,"h":0.43},{"e":90,"s":7,"m":0.33,"l":0.235,"h":0.43},{"e":95,"s":7,"m":0.326,"l":0.235,"h":0.43},{"e":99,"s":7,"m":0.322,"l":0.235,"h":0.425},
{"e":0,"s":9,"m":0.05,"l":0.01,"h":0.1},{"e":2,"s":9,"m":0.11,"l":0.05,"h":0.17},{"e":4,"s":9,"m":0.18,"l":0.11,"h":0.25},{"e":6,"s":9,"m":0.24,"l":0.16,"h":0.32},{"e":8,"s":9,"m":0.28,"l":0.2,"h":0.36},{"e":10,"s":9,"m":0.3,"l":0.22,"h":0.38},{"e":13,"s":9,"m":0.31,"l":0.235,"h":0.39},{"e":16,"s":9,"m":0.318,"l":0.245,"h":0.395},{"e":20,"s":9,"m":0.325,"l":0.25,"h":0.4},{"e":25,"s":9,"m":0.33,"l":0.255,"h":0.405},{"e":30,"s":9,"m":0.328,"l":0.255,"h":0.4},{"e":35,"s":9,"m":0.322,"l":0.25,"h":0.395},{"e":40,"s":9,"m":0.317,"l":0.25,"h":0.39},{"e":45,"s":9,"m":0.313,"l":0.248,"h":0.385},{"e":50,"s":9,"m":0.31,"l":0.245,"h":0.38},{"e":55,"s":9,"m":0.306,"l":0.24,"h":0.375},{"e":60,"s":9,"m":0.3,"l":0.235,"h":0.37},{"e":65,"s":9,"m":0.296,"l":0.23,"h":0.365},{"e":70,"s":9,"m":0.29,"l":0.228,"h":0.36},{"e":75,"s":9,"m":0.288,"l":0.225,"h":0.355},{"e":80,"s":9,"m":0.293,"l":0.23,"h":0.36},{"e":85,"s":9,"m":0.297,"l":0.232,"h":0.365},{"e":90,"s":9,"m":0.3,"l":0.235,"h":0.37},{"e":95,"s":9,"m":0.305,"l":0.238,"h":0.375},{"e":99,"s":9,"m":0.31,"l":0.24,"h":0.38}
],
"g":[
{"e":0,"s":1,"m":0.01,"l":0.006,"h":0.014},{"e":3,"s":1,"m":0.016,"l":0.01,"h":0.022},{"e":6,"s":1,"m":0.04,"l":0.028,"h":0.052},{"e":9,"s":1,"m":0.068,"l":0.05,"h":0.086},{"e":12,"s":1,"m":0.095,"l":0.071,"h":0.119},{"e":15,"s":1,"m":0.116,"l":0.088,"h":0.144},{"e":20,"s":1,"m":0.146,"l":0.114,"h":0.178},{"e":25,"s":1,"m":0.163,"l":0.127,"h":0.199},{"e":30,"s":1,"m":0.177,"l":0.139,"h":0.215},{"e":35,"s":1,"m":0.18,"l":0.14,"h":0.22},{"e":40,"s":1,"m":0.188,"l":0.147,"h":0.229},{"e":45,"s":1,"m":0.197,"l":0.155,"h":0.239},{"e":50,"s":1,"m":0.205,"l":0.162,"h":0.248},{"e":55,"s":1,"m":0.208,"l":0.164,"h":0.252},{"e":60,"s":1,"m":0.21,"l":0.166,"h":0.254},{"e":65,"s":1,"m":0.211,"l":0.166,"h":0.256},{"e":70,"s":1,"m":0.216,"l":0.171,"h":0.261},{"e":75,"s":1,"m":0.224,"l":0.178,"h":0.27},{"e":80,"s":1,"m":0.228,"l":0.182,"h":0.274},{"e":85,"s":1,"m":0.229,"l":0.182,"h":0.276},{"e":90,"s":1,"m":0.23,"l":0.183,"h":0.277},{"e":95,"s":1,"m":0.231,"l":0.183,"h":0.279},{"e":99,"s":1,"m":0.232,"l":0.184,"h":0.28},
{"e":0,"s":3,"m":0.009,"l":0.005,"h":0.013},{"e":3,"s":3,"m":0.015,"l":0.009,"h":0.021},{"e":6,"s":3,"m":0.04,"l":0.028,"h":0.052},{"e":9,"s":3,"m":0.068,"l":0.05,"h":0.086},{"e":12,"s":3,"m":0.094,"l":0.07,"h":0.118},{"e":15,"s":3,"m":0.114,"l":0.086,"h":0.142},{"e":20,"s":3,"m":0.143,"l":0.111,"h":0.175},{"e":25,"s":3,"m":0.16,"l":0.124,"h":0.196},{"e":30,"s":3,"m":0.174,"l":0.136,"h":0.212},{"e":35,"s":3,"m":0.178,"l":0.138,"h":0.218},{"e":40,"s":3,"m":0.186,"l":0.145,"h":0.227},{"e":45,"s":3,"m":0.195,"l":0.153,"h":0.237},{"e":50,"s":3,"m":0.204,"l":0.161,"h":0.247},{"e":55,"s":3,"m":0.207,"l":0.163,"h":0.251},{"e":60,"s":3,"m":0.209,"l":0.165,"h":0.253},{"e":65,"s":3,"m":0.212,"l":0.167,"h":0.257},{"e":70,"s":3,"m":0.217,"l":0.172,"h":0.262},{"e":75,"s":3,"m":0.225,"l":0.179,"h":0.271},{"e":80,"s":3,"m":0.232,"l":0.186,"h":0.278},{"e":85,"s":3,"m":0.236,"l":0.189,"h":0.283},{"e":90,"s":3,"m":0.236,"l":0.189,"h":0.283},{"e":95,"s":3,"m":0.234,"l":0.186,"h":0.282},{"e":99,"s":3,"m":0.237,"l":0.189,"h":0.285},
{"e":0,"s":5,"m":0.01,"l":0.006,"h":0.014},{"e":3,"s":5,"m":0.016,"l":0.01,"h":0.022},{"e":6,"s":5,"m":0.042,"l":0.03,"h":0.054},{"e":9,"s":5,"m":0.071,"l":0.053,"h":0.089},{"e":12,"s":5,"m":0.098,"l":0.074,"h":0.122},{"e":15,"s":5,"m":0.118,"l":0.09,"h":0.146},{"e":20,"s":5,"m":0.148,"l":0.116,"h":0.18},{"e":25,"s":5,"m":0.166,"l":0.13,"h":0.202},{"e":30,"s":5,"m":0.18,"l":0.142,"h":0.218},{"e":35,"s":5,"m":0.187,"l":0.147,"h":0.227},{"e":40,"s":5,"m":0.194,"l":0.153,"h":0.235},{"e":45,"s":5,"m":0.202,"l":0.16,"h":0.244},{"e":50,"s":5,"m":0.208,"l":0.165,"h":0.251},{"e":55,"s":5,"m":0.212,"l":0.168,"h":0.256},{"e":60,"s":5,"m":0.214,"l":0.17,"h":0.258},{"e":65,"s":5,"m":0.217,"l":0.172,"h":0.262},{"e":70,"s":5,"m":0.222,"l":0.177,"h":0.267},{"e":75,"s":5,"m":0.23,"l":0.184,"h":0.276},{"e":80,"s":5,"m":0.236,"l":0.19,"h":0.282},{"e":85,"s":5,"m":0.238,"l":0.191,"h":0.285},{"e":90,"s":5,"m":0.24,"l":0.193,"h":0.287},{"e":95,"s":5,"m":0.242,"l":0.194,"h":0.29},{"e":99,"s":5,"m":0.244,"l":0.196,"h":0.292},
{"e":0,"s":7,"m":0.01,"l":0.006,"h":0.014},{"e":3,"s":7,"m":0.017,"l":0.011,"h":0.023},{"e":6,"s":7,"m":0.044,"l":0.032,"h":0.056},{"e":9,"s":7,"m":0.074,"l":0.056,"h":0.092},{"e":12,"s":7,"m":0.1,"l":0.076,"h":0.124},{"e":15,"s":7,"m":0.12,"l":0.092,"h":0.148},{"e":20,"s":7,"m":0.15,"l":0.118,"h":0.182},{"e":25,"s":7,"m":0.168,"l":0.132,"h":0.204},{"e":30,"s":7,"m":0.182,"l":0.144,"h":0.22},{"e":35,"s":7,"m":0.19,"l":0.15,"h":0.23},{"e":40,"s":7,"m":0.198,"l":0.157,"h":0.239},{"e":45,"s":7,"m":0.205,"l":0.163,"h":0.247},{"e":50,"s":7,"m":0.213,"l":0.17,"h":0.256},{"e":55,"s":7,"m":0.222,"l":0.178,"h":0.266},{"e":60,"s":7,"m":0.222,"l":0.178,"h":0.266},{"e":65,"s":7,"m":0.224,"l":0.179,"h":0.269},{"e":70,"s":7,"m":0.228,"l":0.183,"h":0.273},{"e":75,"s":7,"m":0.236,"l":0.19,"h":0.282},{"e":80,"s":7,"m":0.24,"l":0.194,"h":0.286},{"e":85,"s":7,"m":0.242,"l":0.195,"h":0.289},{"e":90,"s":7,"m":0.246,"l":0.199,"h":0.293},{"e":95,"s":7,"m":0.248,"l":0.2,"h":0.296},{"e":99,"s":7,"m":0.249,"l":0.201,"h":0.297},
{"e":0,"s":9,"m":0.011,"l":0.007,"h":0.015},{"e":3,"s":9,"m":0.017,"l":0.011,"h":0.023},{"e":6,"s":9,"m":0.043,"l":0.031,"h":0.055},{"e":9,"s":9,"m":0.073,"l":0.055,"h":0.091},{"e":12,"s":9,"m":0.1,"l":0.076,"h":0.124},{"e":15,"s":9,"m":0.12,"l":0.092,"h":0.148},{"e":20,"s":9,"m":0.15,"l":0.118,"h":0.182},{"e":25,"s":9,"m":0.168,"l":0.132,"h":0.204},{"e":30,"s":9,"m":0.183,"l":0.145,"h":0.221},{"e":35,"s":9,"m":0.192,"l":0.152,"h":0.232},{"e":40,"s":9,"m":0.2,"l":0.159,"h":0.241},{"e":45,"s":9,"m":0.207,"l":0.165,"h":0.249},{"e":50,"s":9,"m":0.213,"l":0.17,"h":0.256},{"e":55,"s":9,"m":0.219,"l":0.175,"h":0.263},{"e":60,"s":9,"m":0.22,"l":0.176,"h":0.264},{"e":65,"s":9,"m":0.222,"l":0.177,"h":0.267},{"e":70,"s":9,"m":0.226,"l":0.181,"h":0.271},{"e":75,"s":9,"m":0.234,"l":0.188,"h":0.28},{"e":80,"s":9,"m":0.24,"l":0.194,"h":0.286},{"e":85,"s":9,"m":0.241,"l":0.194,"h":0.288},{"e":90,"s":9,"m":0.244,"l":0.197,"h":0.291},{"e":95,"s":9,"m":0.247,"l":0.199,"h":0.295},{"e":99,"s":9,"m":0.248,"l":0.2,"h":0.296}
]
},
"config":{
"view":{"stroke":"#000000","strokeWidth":2.5},
"axis":{"domain":false,"grid":false,"tickColor":"#000000","tickSize":4.5,"tickWidth":1.1,"labelFont":"DejaVu Sans","labelFontSize":12.5,"labelColor":"#000000","labelPadding":3,"labelFlush":false,"labelOverlap":false,"titleFont":"DejaVu Sans","titleFontSize":12.5,"titleFontWeight":"normal","titleColor":"#000000","titlePadding":3.5},
"title":{"orient":"bottom","anchor":"middle","frame":"bounds","font":"Liberation Serif","fontSize":23.5,"fontWeight":"normal","color":"#000000","offset":21,"baseline":"top"},
"legend":{"symbolType":"M-1.6,0H1.6","symbolSize":484,"symbolStrokeWidth":3.5,"symbolOffset":6.6,"symbolOpacity":1,"labelFont":"DejaVu Sans","labelFontSize":15.5,"labelColor":"#000000","labelOffset":17.6,"columnPadding":21,"padding":1.4,"strokeColor":"#cccccc","cornerRadius":4,"fillColor":"#ffffff","labelLimit":300}
}
}
